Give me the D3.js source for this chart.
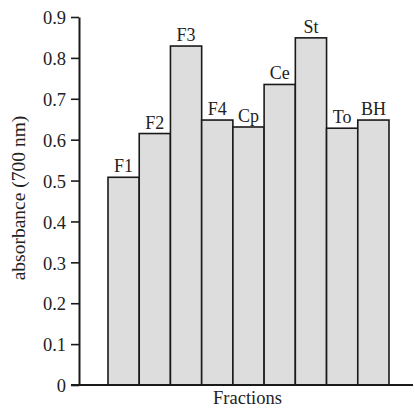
<!DOCTYPE html>
<html>
<head>
<meta charset="utf-8">
<script src="https://cdn.jsdelivr.net/npm/d3@7"></script>
<style>
  body { margin: 0; background: #fff; }
  text { font-family: "Liberation Serif", "Times New Roman", serif; fill: #222; }
</style>
</head>
<body>
<div id="chart"></div>
<script>
// fractions and their absorbance at 700 nm
const fractions = ["F1", "F2", "F3", "F4", "Cp", "Ce", "St", "To", "BH"];
const absorbance = [0.508, 0.615, 0.829, 0.648, 0.631, 0.735, 0.849, 0.628, 0.648];
const yTicks = [0, 0.1, 0.2, 0.3, 0.4, 0.5, 0.6, 0.7, 0.8, 0.9];

const W = 415, H = 408;
const margin = { top: 17, left: 79, right: 2, bottom: 23 };
const width = W - margin.left - margin.right,
  height = H - margin.top - margin.bottom;

const svg = d3.select("#chart").append("svg")
  .attr("width", W)
  .attr("height", H);

const g = svg.append("g")
  .attr("transform", "translate(" + margin.left + "," + margin.top + ")");

const x = d3.scaleBand()
  .domain(fractions)
  .range([29, 310])
  .paddingInner(0);

const y = d3.scaleLinear()
  .domain([0, 0.9])
  .range([height, 0]);

// bars
g.selectAll("rect.bar")
  .data(fractions)
  .join("rect")
  .attr("class", "bar")
  .attr("x", d => x(d))
  .attr("y", (d, i) => y(absorbance[i]))
  .attr("width", x.bandwidth())
  .attr("height", (d, i) => y(0) - y(absorbance[i]))
  .attr("fill", "#dddddd")
  .attr("stroke", "#1a1a1a")
  .attr("stroke-width", 1.6);

// labels on top of bars
g.selectAll("text.lbl")
  .data(fractions)
  .join("text")
  .attr("class", "lbl")
  .attr("x", d => x(d) + x.bandwidth() / 2)
  .attr("y", (d, i) => y(absorbance[i]) - 5)
  .attr("text-anchor", "middle")
  .style("font-size", "18px")
  .text(d => d);

// y axis
const yAxis = g.append("g")
  .call(d3.axisLeft(y)
    .tickValues(yTicks)
    .tickSize(8)
    .tickSizeOuter(0)
    .tickPadding(5)
    .tickFormat(d => d === 0 ? "0" : d3.format(".1f")(d)));
yAxis.select(".domain").attr("stroke", "#1a1a1a").attr("stroke-width", 2);
yAxis.selectAll(".tick line").attr("stroke", "#1a1a1a").attr("stroke-width", 1.6);
yAxis.selectAll(".tick text")
  .attr("dy", "0.36em")
  .style("font-family", "'Liberation Serif', serif")
  .style("font-size", "18.5px")
  .attr("fill", "#222");

// x axis baseline
g.append("line")
  .attr("x1", -8)
  .attr("x2", width)
  .attr("y1", y(0))
  .attr("y2", y(0))
  .attr("stroke", "#1a1a1a")
  .attr("stroke-width", 2);

// axis labels
g.append("text")
  .attr("x", (x.range()[0] + x.range()[1]) / 2 - 1)
  .attr("y", height + 19)
  .attr("text-anchor", "middle")
  .style("font-size", "18.5px")
  .text("Fractions");

svg.append("text")
  .attr("transform", "translate(25," + 198 + ") rotate(-90)")
  .attr("text-anchor", "middle")
  .style("font-size", "19.5px")
  .text("absorbance (700 nm)");
</script>
</body>
</html>
